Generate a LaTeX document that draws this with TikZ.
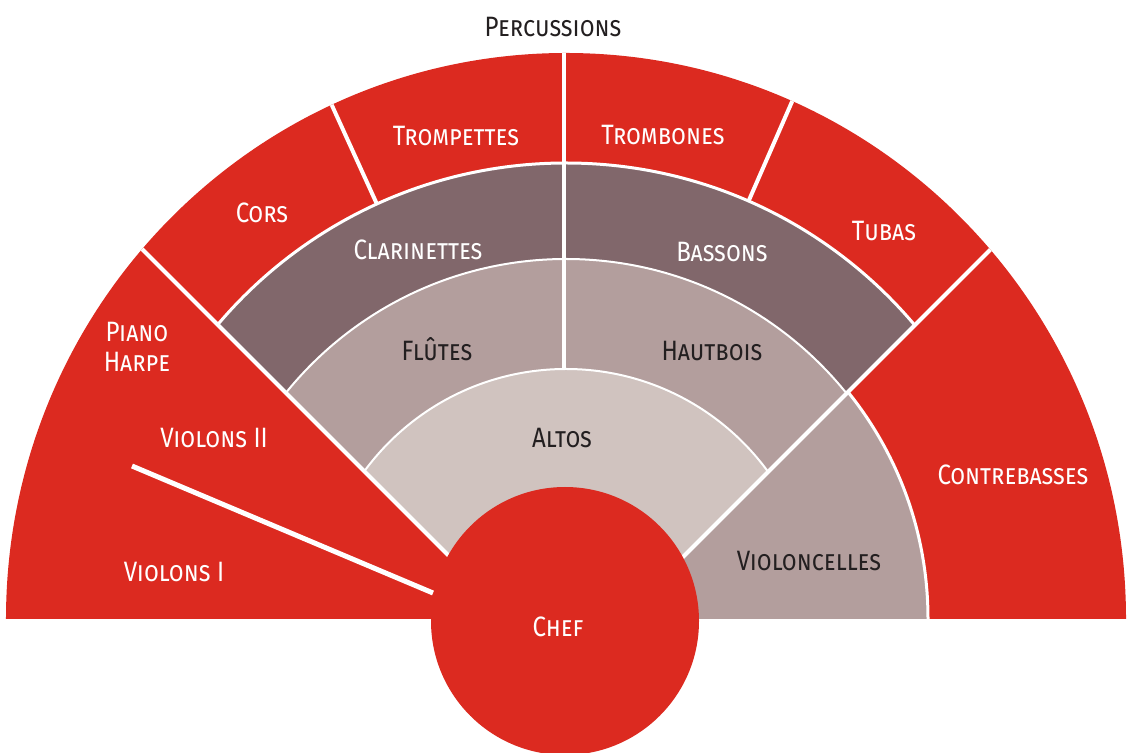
\documentclass[tikz,border=0pt]{standalone}
\usepackage{fontspec}
\setmainfont{Fira Sans}[FakeStretch=0.86]
\definecolor{orchred}{RGB}{220,42,32}
\definecolor{winddark}{RGB}{129,103,107}
\definecolor{windlight}{RGB}{179,158,157}
\definecolor{altogrey}{RGB}{208,195,191}
\definecolor{inkdark}{RGB}{35,31,32}
\tikzset{
  pupitre/.style={font=\fontsize{14}{17}\selectfont\scshape, inner sep=0pt, anchor=base},
  onred/.style={pupitre, text=white},
  onpale/.style={pupitre, text=inkdark},
  seam/.style={white, line width=2pt},
  ringseam/.style={white, line width=1pt}
}
\begin{document}
\begin{tikzpicture}[x=0.5pt,y=0.5pt]
\useasboundingbox (-566,-134) rectangle (561,619);

% the whole half disc
\fill[orchred] (560,0) arc [start angle=0, end angle=180, x radius=560, y radius=566] -- cycle;

% woodwinds and altos
\begin{scope}
  \clip (0,-54) -- (-700,646) -- (700,645) -- cycle;
  \fill[winddark] (0,0) circle (456);
  \fill[windlight] (0,0) circle (360);
  \fill[altogrey] (0,0) circle (250);
  \draw[ringseam, line width=1.5pt] (0,0) circle (456);
  \draw[ringseam] (0,0) circle (360) (0,0) circle (250);
\end{scope}

% cellos
\begin{scope}
  \clip (55,0) -- (700,645) -- (700,0) -- cycle;
  \fill[windlight] (0,0) circle (362);
  \draw[ringseam, line width=1.5pt] (0,0) circle (362);
\end{scope}

% seams
\begin{scope}
  \clip (560,0) arc [start angle=0, end angle=180, x radius=560, y radius=566] -- cycle;
  \coordinate (leftfoot) at (0,-54);
  \coordinate (lefttop) at (-700,646);
  \coordinate (rightfoot) at (0,-55);
  \coordinate (righttop) at (700,645);
  \draw[seam] (leftfoot) -- (lefttop);
  \draw[seam] (rightfoot) -- (righttop);
  \draw[seam] (114.5:456) -- (114.5:590);
  \draw[seam] (66.4:456) -- (66.4:590);
  \draw[seam] (-2,250) -- (-2,590);
\end{scope}
\coordinate (violonsout) at (-434,153);
\coordinate (violonsin) at (-133,26);
\draw[seam, line width=2.5pt] (violonsout) -- (violonsin);

% conductor
\fill[orchred] (-1,-2) circle (134);

% labels
\node[onpale] (percussions) at (-13,582) {Percussions};
\node[onred] (trompettes) at (-110,473) {Trompettes};
\node[onred] (trombones) at (97,474) {Trombones};
\node[onred] (cors) at (-304,396) {Cors};
\node[onred] (tubas) at (318,378) {Tubas};
\node[onred] (clarinettes) at (-148,359) {Clarinettes};
\node[onred] (bassons) at (156,357) {Bassons};
\node[onred] (piano) at (-429,277) {Piano};
\node[onred] (harpe) at (-429,247) {Harpe};
\node[onpale] (flutes) at (-129,258) {Flûtes};
\node[onpale] (hautbois) at (146,258) {Hautbois};
\node[onred] (violons2) at (-352,171) {Violons II};
\node[onpale] (altos) at (-4,171) {Altos};
\node[onred] (contrebasses) at (447,134) {Contrebasses};
\node[onpale] (violoncelles) at (243,48) {Violoncelles};
\node[onred] (violons1) at (-392,37) {Violons I};
\node[onred] (chef) at (-8,-18) {Chef};
\end{tikzpicture}
\end{document}
